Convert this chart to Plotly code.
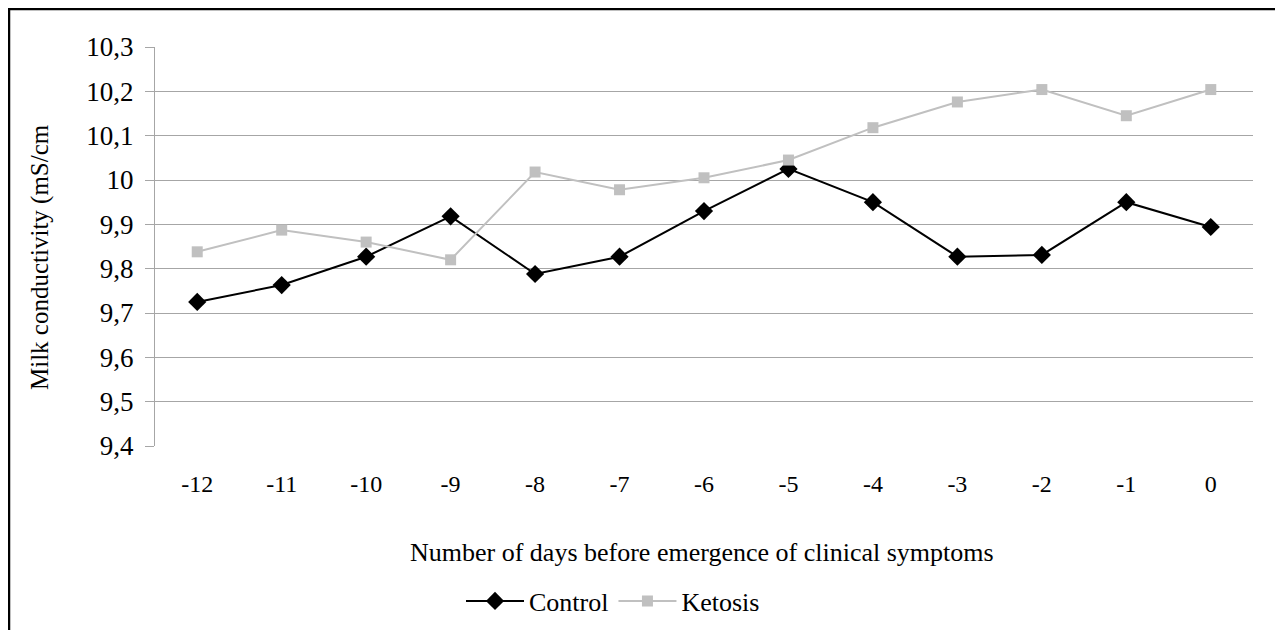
import plotly.graph_objects as go

days = ["-12", "-11", "-10", "-9", "-8", "-7", "-6", "-5", "-4", "-3", "-2", "-1", "0"]
control = [9.725, 9.763, 9.827, 9.918, 9.788, 9.827, 9.930, 10.025, 9.950, 9.827, 9.831, 9.950, 9.894]
ketosis = [9.838, 9.887, 9.860, 9.820, 10.018, 9.978, 10.005, 10.045, 10.118, 10.176, 10.204, 10.145, 10.204]
y_ticks = [9.4, 9.5, 9.6, 9.7, 9.8, 9.9, 10.0, 10.1, 10.2, 10.3]
y_labels = ["9,4", "9,5", "9,6", "9,7", "9,8", "9,9", "10", "10,1", "10,2", "10,3"]

FONT = "Times New Roman, Liberation Serif, Times, serif"
GRID = "#A6A6A6"

# the page body has an 8px margin; figure coordinates = page coordinates - 8
W, H = 1275, 622
L, T = 147, 39
PR, PB = 1245, 438  # plot right / bottom in figure coords
PW, PH = PR - L, PB - T


def px_x(x):
    return (x - 8 - L) / PW


def px_y(y):
    return (PB - (y - 8)) / PH


fig = go.Figure()
fig.add_trace(go.Scatter(
    x=days, y=control, name="Control", mode="lines+markers",
    line=dict(color="black", width=2),
    marker=dict(symbol="diamond", size=14, color="black"),
))
fig.add_trace(go.Scatter(
    x=days, y=ketosis, name="Ketosis", mode="lines+markers",
    line=dict(color="#C0C0C0", width=2),
    marker=dict(symbol="square", size=11, color="#C0C0C0"),
))

fig.update_layout(
    width=W, height=H,
    margin=dict(l=L, r=W - PR, t=T, b=H - PB, pad=0, autoexpand=False),
    paper_bgcolor="white", plot_bgcolor="white",
    font=dict(family=FONT, size=24, color="black"),
    showlegend=True,
    legend=dict(orientation="h", x=px_x(461), xanchor="left",
                y=px_y(601), yanchor="middle",
                font=dict(family=FONT, size=26), bgcolor="rgba(0,0,0,0)",
                itemwidth=58, tracegroupgap=0),
    xaxis=dict(type="category", range=[-0.5, 12.5], showgrid=False,
               showline=False, ticks="", tickfont=dict(family=FONT, size=24),
               ticklabelstandoff=21, zeroline=False, automargin=False),
    yaxis=dict(range=[9.4, 10.3], tickvals=y_ticks, ticktext=y_labels,
               showgrid=True, gridcolor=GRID, gridwidth=1,
               showline=True, linecolor=GRID, linewidth=1,
               ticks="outside", ticklen=9, tickcolor=GRID, tickwidth=1,
               tickfont=dict(family=FONT, size=27), ticklabelstandoff=6,
               zeroline=False, automargin=False),
    annotations=[
        dict(text="Number of days before emergence of clinical symptoms",
             xref="paper", yref="paper", x=px_x(702), y=px_y(552),
             xanchor="center", yanchor="middle", showarrow=False,
             font=dict(family=FONT, size=26)),
        dict(text="Milk conductivity (mS/cm",
             xref="paper", yref="paper", x=px_x(40), y=px_y(257),
             xanchor="center", yanchor="middle", showarrow=False, textangle=-90,
             font=dict(family=FONT, size=25)),
    ],
    shapes=[
        dict(type="line", xref="paper", yref="paper",
             x0=px_x(7), x1=px_x(1300),
             y0=px_y(9), y1=px_y(9),
             line=dict(color="black", width=2.5)),
        dict(type="line", xref="paper", yref="paper",
             x0=px_x(9), x1=px_x(9),
             y0=px_y(8), y1=px_y(640),
             line=dict(color="black", width=2.5)),
    ],
)

fig.write_html("out.html")
